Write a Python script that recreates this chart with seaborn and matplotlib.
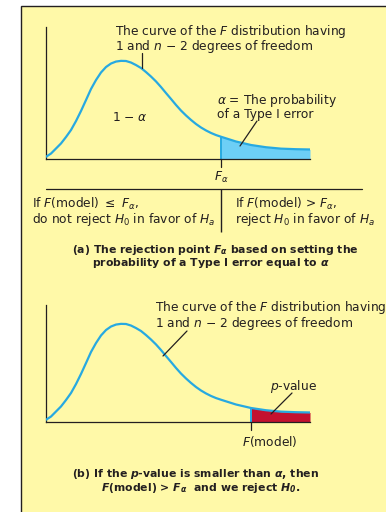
import matplotlib
matplotlib.use("Agg")
import matplotlib.pyplot as plt
from matplotlib.patches import Rectangle
from matplotlib.lines import Line2D
import numpy as np
import pandas as pd
import seaborn as sns

# F-distribution curve (1 and n-2 df), sampled heights
f_values = [0.0, 0.1, 0.2, 0.3, 0.4, 0.5, 0.6, 0.7, 0.8, 0.9, 1.0, 1.1, 1.2,
            1.3, 1.4, 1.5, 1.6, 1.7, 1.8, 1.9, 2.0, 2.1, 2.2, 2.3, 2.4, 2.5,
            2.6, 2.7, 2.8, 2.9, 3.0, 3.1, 3.2, 3.3, 3.4, 3.5, 3.8, 4.1, 4.4,
            4.7, 5.0, 5.28]
density = [0.016, 0.039, 0.075, 0.111, 0.157, 0.207, 0.271, 0.343, 0.421,
           0.500, 0.564, 0.618, 0.657, 0.682, 0.696, 0.701, 0.700, 0.689,
           0.671, 0.650, 0.621, 0.589, 0.554, 0.514, 0.471, 0.429, 0.386,
           0.346, 0.311, 0.279, 0.250, 0.225, 0.204, 0.186, 0.171, 0.159,
           0.125, 0.100, 0.084, 0.074, 0.070, 0.068]
f_alpha = 3.5       # rejection point
f_model = 4.1       # observed F(model)

curve_color = "#27A9E1"
alpha_fill = "#6DCFF6"
pvalue_fill = "#C4112F"
panel_color = "#FFF9A8"
ink = "#231F20"

sns.set_style("white")
FONT = "DejaVu Sans"
plt.rcParams["font.family"] = [FONT]
plt.rcParams["mathtext.fontset"] = "custom"
plt.rcParams["mathtext.rm"] = FONT
plt.rcParams["mathtext.it"] = FONT + ":italic"
plt.rcParams["mathtext.bf"] = FONT + ":bold"
plt.rcParams["mathtext.sf"] = FONT + ":bold:italic"

W, H = 386, 512
fig = plt.figure(figsize=(W / 100, H / 100), dpi=100)
fig.patch.set_facecolor("white")


def fx(x):
    return x / W


def fy(y):
    return 1 - y / H


# yellow panel with a rule on its left and top
fig.patches.append(Rectangle((fx(21), -0.1), 1.2, fy(6) + 0.1,
                             transform=fig.transFigure, facecolor=panel_color,
                             edgecolor=ink, linewidth=1.0, zorder=-5))

df = pd.DataFrame({"F": f_values, "density": density})
scale = 140.0  # pixels per density unit


def draw_panel(top_px, axis_px, cutoff, fill_color):
    ax = fig.add_axes([fx(46), fy(axis_px), 264 / W, (axis_px - top_px) / H])
    ax.set_facecolor("none")
    x = np.array(f_values)
    y = np.array(density)
    ax.fill_between(x, 0, y, where=x >= cutoff, color=fill_color,
                    linewidth=0, zorder=1)
    ax.plot([cutoff, cutoff], [0, np.interp(cutoff, x, y)],
            color=curve_color, lw=1.4, zorder=2)
    sns.lineplot(data=df, x="F", y="density", ax=ax, color=curve_color,
                 lw=1.6, zorder=3)
    ax.set_xlim(0, 5.28)
    ax.set_ylim(0, (axis_px - top_px) / scale)
    ax.set_xticks([])
    ax.set_yticks([])
    ax.set_xlabel("")
    ax.set_ylabel("")
    for side in ("top", "right"):
        ax.spines[side].set_visible(False)
    for side in ("left", "bottom"):
        ax.spines[side].set_color(ink)
        ax.spines[side].set_linewidth(0.9)
    ax.plot([cutoff, cutoff], [0, -7.5 / scale], color=ink, lw=0.9,
            clip_on=False)
    return ax


ax1 = draw_panel(27, 159, f_alpha, alpha_fill)
ax2 = draw_panel(305, 422, f_model, pvalue_fill)

# decision rule divider under panel (a)
ax1.plot([0, 6.32], [-30 / scale, -30 / scale], color=ink, lw=0.9,
         clip_on=False, zorder=5)
ax1.plot([f_alpha, f_alpha], [-30 / scale, -73 / scale], color=ink, lw=1.0,
         clip_on=False, zorder=5, solid_capstyle="butt")

fs = 8.8
fs_bold = 7.8


def txt(x, y, s, ha="left", size=fs, **kw):
    fig.text(fx(x), fy(y), s, ha=ha, va="baseline", fontsize=size,
             color=ink, **kw)


def leader(x0, y0, x1, y1):
    fig.add_artist(Line2D([fx(x0), fx(x1)], [fy(y0), fy(y1)], color=ink,
                          lw=0.9, transform=fig.transFigure))


curve_label = ("The curve of the $F$ distribution having\n"
               "1 and $n$ − 2 degrees of freedom")

# panel (a)
txt(115, 50, curve_label, linespacing=0.85)
leader(142, 53, 142, 68)
txt(112, 121, "1 − $\\alpha$")
txt(217, 104, "$\\alpha$ = The probability")
txt(217, 118.3, "of a Type I error")
leader(257, 121, 240, 146)
txt(221, 180.7, "$F_\\alpha$", ha="center")
txt(32, 207.7, "If $F$(model) $\\leq$ $F_\\alpha$,")
txt(32, 223.3, "do not reject $H_0$ in favor of $H_a$")
txt(235, 207.7, "If $F$(model) > $F_\\alpha$,")
txt(235, 223.3, "reject $H_0$ in favor of $H_a$")
txt(215, 252.7, "(a) The rejection point $\\mathsf{F_\\alpha}$ based on setting the",
    ha="center", size=fs_bold, fontweight="bold")
txt(210.5, 266, "probability of a Type I error equal to $\\mathsf{\\alpha}$",
    ha="center", size=fs_bold, fontweight="bold")

# panel (b)
txt(155, 326.7, curve_label, linespacing=0.9)
leader(187, 331, 163, 356)
txt(270, 390, "$p$-value")
leader(292, 393, 271, 414)
txt(270, 445.7, "$F$(model)", ha="center")
txt(195.5, 476.7, "(b) If the $\\mathsf{p}$-value is smaller than $\\mathsf{\\alpha}$, then",
    ha="center", size=fs_bold, fontweight="bold")
txt(201, 491, "$\\mathsf{F}$(model) > $\\mathsf{F_\\alpha}$  and we reject $\\mathsf{H_0}$.",
    ha="center", size=fs_bold, fontweight="bold")

fig.savefig("out.png", dpi=100)
